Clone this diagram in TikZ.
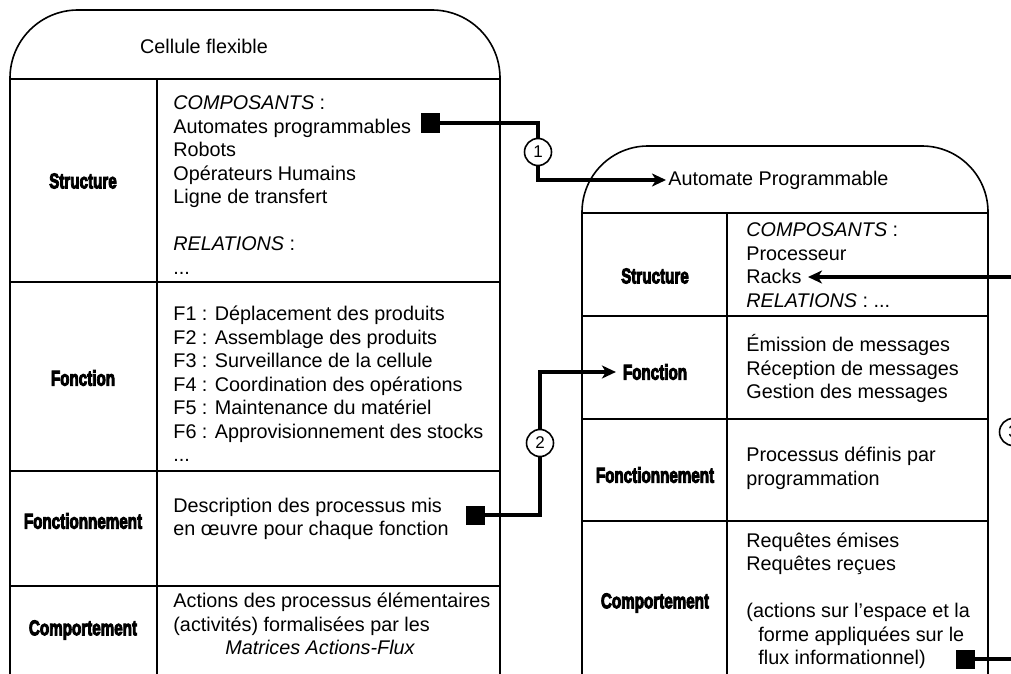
\documentclass[tikz,border=0pt]{standalone}
\usepackage{fontspec}
\setmainfont{Liberation Sans}
\newfontfamily\hdfont[BoldFeatures={FakeBold=5}]{Liberation Sans}
\usepackage{tikz}
\usetikzlibrary{arrows.meta,positioning,calc}
\newcommand{\hd}[1]{\scalebox{0.8}[1.12]{\hdfont\bfseries #1}}
\tikzset{
  frame/.style={line width=0.8pt},
  txt/.style={font=\fontsize{9.9}{11.75}\selectfont, align=left, anchor=west, inner sep=0pt},
  hdr/.style={font=\fontsize{9.5}{11}\selectfont, inner sep=3.3pt},
  ttl/.style={font=\fontsize{9.9}{11.75}\selectfont, inner sep=1pt},
  sq/.style={fill=black, minimum size=9.5pt, inner sep=0pt},
  num/.style={circle, draw, line width=0.8pt, fill=white, minimum size=13.5pt,
              inner sep=0pt, font=\fontsize{8.5}{10}\selectfont},
  conn/.style={line width=1.6pt},
  arr/.style={line width=1.6pt, -{Stealth[length=7pt,width=6.5pt,inset=2pt]}},
}

\begin{document}
\begin{tikzpicture}[x=0.5pt,y=-0.5pt]
\useasboundingbox (0,0) rectangle (1011,674);
% cellule flexible
\draw[frame, rounded corners=34pt] (10,79) |- (255,10) -| (500,79);
\draw[frame] (10,79) -- (10,700) (157,79) -- (157,700) (500,79) -- (500,700);
\foreach \y in {79,282,471,586} \draw[frame] (10,\y) -- (500,\y);
\node[ttl] (tL) at (204,46) {Cellule flexible};
\node[hdr] (sL) at (83,181) {\hd{Structure}};
\node[hdr] (fL) at (83,378) {\hd{Fonction}};
\node[hdr] (gL) at (83,521) {\hd{Fonctionnement}};
\node[hdr] (cL) at (83,630) {\hd{Comportement}};
\node[txt] (sLt) at (173,185) {\textit{COMPOSANTS} :\\ Automates programmables\\ Robots\\
  Opérateurs Humains\\ Ligne de transfert\\ ~\\ \textit{RELATIONS} :\\ ...};
\node[txt] (fLt) at (173,384) {F1 : Déplacement des produits\\ F2 : Assemblage des produits\\
  F3 : Surveillance de la cellule\\ F4 : Coordination des opérations\\
  F5 : Maintenance du matériel\\ F6 : Approvisionnement des stocks\\ ...};
\node[txt] (gLt) at (173,519) {Description des processus mis\\ en œuvre pour chaque fonction};
\node[txt] (cLt) at (173,624) {Actions des processus élémentaires\\ (activités) formalisées par les\\
  \hspace*{26pt}\textit{Matrices Actions-Flux}};
% automate programmable
\draw[frame, rounded corners=33pt] (582,213) |- (785,146) -| (988,213);
\draw[frame] (582,213) -- (582,700) (727,213) -- (727,700) (988,213) -- (988,700);
\foreach \y in {213,316,419,521} \draw[frame] (582,\y) -- (988,\y);
\node[ttl, anchor=west] (tR) at (666,180) {Automate Programmable};
\node[hdr] (sR) at (655,276) {\hd{Structure}};
\node[hdr] (fR) at (655,372) {\hd{Fonction}};
\node[hdr] (gR) at (655,475) {\hd{Fonctionnement}};
\node[hdr] (cR) at (655,603) {\hd{Comportement}};
\node[txt] (sRt) at (746,265) {\textit{COMPOSANTS} :\\ Processeur\\ Racks\\ \textit{RELATIONS} : ...};
\node[txt] (fRt) at (746,368.5) {Émission de messages\\ Réception de messages\\ Gestion des messages};
\node[txt] (gRt) at (746,468.5) {Processus définis par\\ programmation};
\node[txt] (cRt) at (746,601) {Requêtes émises\\ Requêtes reçues\\ ~\\ (actions sur l'espace et la\\
  \hspace*{6pt}forme appliquées sur le\\ \hspace*{6pt}flux informationnel)};
% links
\node[sq] (sqA) at (430,123) {};
\node[sq] (sqB) at (475,515) {};
\node[sq] (sqC) at (965,659) {};
\node[num] (c1) at (538,152) {1};
\node[num] (c2) at (540,443) {2};
\node[num] (c3) at (1013,432) {3};
\coordinate (racks) at (808,277);
\draw[conn] (sqA.east) -| (c1.north);
\draw[arr] (c1.south) |- (tR.west);
\draw[conn] (sqB.east) -| (c2.south);
\draw[arr] (c2.north) |- (fR.west);
\draw[conn] (sqC.east) -| (c3.south);
\draw[arr] (c3.north) |- (racks);
\end{tikzpicture}
\end{document}
